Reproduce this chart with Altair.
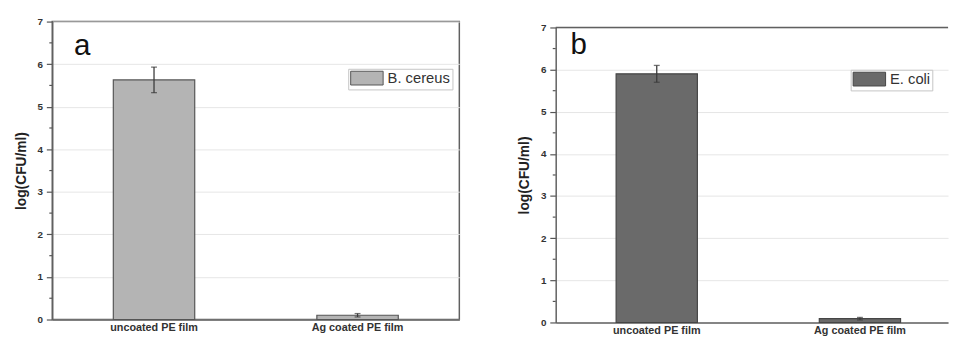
import altair as alt
import pandas as pd

categories = ["uncoated PE film", "Ag coated PE film"]
bc_values = [5.63, 0.10]
bc_errors = [0.30, 0.04]
ec_values = [5.90, 0.09]
ec_errors = [0.20, 0.03]
y_ticks = [0, 1, 2, 3, 4, 5, 6, 7]
minor_ticks = [0.5, 1.5, 2.5, 3.5, 4.5, 5.5, 6.5]

FONT = "Liberation Sans"
YTITLE = "log(CFU/ml)"
FRAME = "#606060"
# wide swatch drawn from a 14px symbol slot (scale = 7px per unit)
SWATCH = "M-1,-1H3.714V1H-1Z"


def panel(values, errors, species, fill, stroke, letter, letter_x, letter_y,
          width, height, legend_x, legend_y, xscale, open_right):
    df = pd.DataFrame({"film": categories, "value": values, "err": errors,
                       "species": [species] * len(categories)})
    yscale = alt.Scale(domain=[0, 7], nice=False)
    xenc = alt.X("film:N", scale=xscale, sort=categories, title=None)
    base = alt.Chart(df)

    bars = base.mark_bar(stroke=stroke, strokeWidth=1.2).encode(
        x=xenc,
        y=alt.Y("value:Q", scale=yscale, title=YTITLE),
        color=alt.Color(
            "species:N",
            scale=alt.Scale(domain=[species], range=[fill]),
            legend=alt.Legend(
                title=None, orient="none", legendX=legend_x, legendY=legend_y,
                symbolType=SWATCH, symbolSize=196,
                symbolStrokeColor=stroke, symbolStrokeWidth=1,
                labelFont=FONT, labelFontSize=15, labelColor="#333333",
                labelOffset=23, padding=2, strokeColor="#c4c4c4",
                fillColor="white",
            ),
        ),
    )

    err_df = base.transform_calculate(
        lo="datum.value - datum.err", hi="datum.value + datum.err"
    )
    rule = err_df.mark_rule(color="#3a3a3a", strokeWidth=1.3).encode(
        x=xenc,
        y=alt.Y("lo:Q", scale=yscale, title=YTITLE),
        y2="hi:Q",
    )
    caps = err_df.transform_fold(["lo", "hi"], as_=["kind", "end"]).mark_tick(
        color="#3a3a3a", size=6, thickness=1.3
    ).encode(
        x=xenc,
        y=alt.Y("end:Q", scale=yscale, title=YTITLE),
    )

    minor = alt.Chart(pd.DataFrame({"t": minor_ticks})).mark_rule(
        color="#555555", strokeWidth=1.2
    ).encode(
        x=alt.value(-3), x2=alt.value(0),
        y=alt.Y("t:Q", scale=yscale, title=YTITLE),
    )

    label = alt.Chart(pd.DataFrame({"label": [letter]})).mark_text(
        font=FONT, fontSize=30, align="left", baseline="alphabetic", color="#111111"
    ).encode(text="label:N", x=alt.value(letter_x), y=alt.value(letter_y))

    layers = [bars, rule, caps, minor, label]
    props = {"width": width, "height": height}
    if open_right:
        top = alt.Chart(pd.DataFrame({"k": [0]})).mark_rule(
            color=FRAME, strokeWidth=1.5
        ).encode(x=alt.value(0), x2=alt.value(width), y=alt.value(0))
        layers.append(top)
        props["view"] = alt.ViewBackground(stroke="transparent")
    return alt.layer(*layers).properties(**props)


scale_a = alt.Scale(domain=categories, paddingInner=0.6, paddingOuter=0.3)
scale_b = alt.Scale(domain=categories, paddingInner=0.6, paddingOuter=0.2655,
                    align=0.56)

pa = panel(bc_values, bc_errors, "B. cereus", "#b4b4b4", "#555555", "a",
           22, 34, 414, 303, 301, 48, scale_a, False)
pb = panel(ec_values, ec_errors, "E. coli", "#6a6a6a", "#454545", "b",
           15, 27, 399, 300, 300, 49, scale_b, True)

spacer = alt.Chart(pd.DataFrame({"s": [0]})).mark_rule(opacity=0, strokeWidth=0.1).encode(
    x=alt.value(0), x2=alt.value(1), y=alt.value(0)
).properties(width=300, height=1, view=alt.ViewBackground(stroke="transparent"))

right = alt.vconcat(spacer, pb, spacing=-2)

chart = alt.hconcat(pa, right, spacing=57).resolve_scale(
    color="independent"
).resolve_legend(color="independent").properties(
    padding={"left": 5, "top": 5, "right": 0, "bottom": 0}
).configure_view(
    stroke=FRAME, strokeWidth=1.5
).configure_axisX(
    labelAngle=0, ticks=False, labelPadding=2, labelFontSize=11, labelFont=FONT,
    labelFontWeight="bold", labelColor="#333333", domainColor=FRAME,
    domainWidth=1.5, grid=False,
).configure_axisY(
    values=y_ticks, format="d", labelFont=FONT, labelFontSize=10,
    labelFontWeight="bold", labelColor="#333333", labelPadding=4,
    tickSize=6, tickColor="#555555", tickWidth=1.2, domainColor=FRAME,
    domainWidth=1.5, grid=True, gridColor="#e6e6e6", gridWidth=1,
    titleFont=FONT, titleFontSize=14, titleFontWeight="bold",
    titleColor="#222222", titlePadding=9,
)

chart.save("out.html", embed_options={"renderer": "svg", "actions": False})
